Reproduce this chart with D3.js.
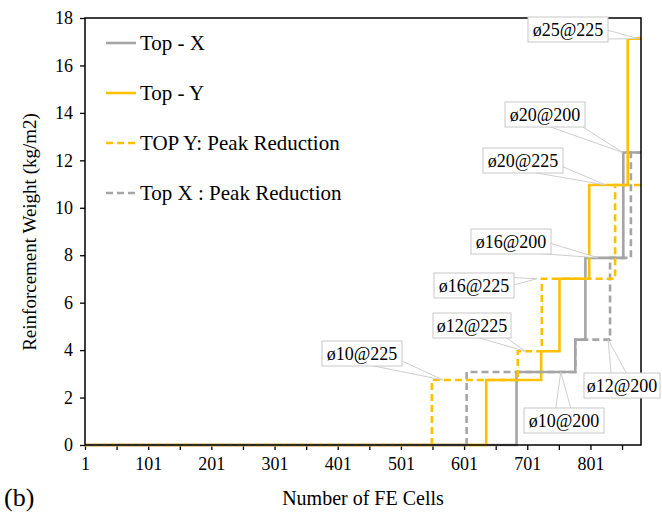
<!DOCTYPE html>
<html><head><meta charset="utf-8">
<script src="https://cdn.jsdelivr.net/npm/d3@7/dist/d3.min.js"></script>
<style>
html,body{margin:0;padding:0;background:#fff;}
svg{display:block;}
svg text{font-family:"Liberation Serif","Times New Roman",Times,"DejaVu Serif",serif !important;}
</style></head>
<body><svg id="chart" width="662" height="519"></svg>
<script>
// ---- data ----
const xDomain = [1, 881];
const xTickValues = [1,51,101,151,201,251,301,351,401,451,501,551,601,651,701,751,801,851];
const xTickLabels = ["1","101","201","301","401","501","601","701","801"];
const yTickValues = [0,2,4,6,8,10,12,14,16,18];

const seriesNames = ["Top - X", "Top - Y", "TOP Y: Peak Reduction", "Top X : Peak Reduction"];
const topXStart = [1, 684, 777, 793, 853];
const topXValue = [0, 3.08, 4.44, 7.89, 12.33];
const topYStart = [1, 636, 723, 752, 799, 860];
const topYValue = [0, 2.74, 3.95, 7.01, 10.96, 17.13];
const topYPeakStart = [1, 550, 686, 724, 840];
const topYPeakValue = [0, 2.74, 3.95, 7.01, 10.96];
const topXPeakStart = [1, 605, 777, 832, 865];
const topXPeakValue = [0, 3.08, 4.44, 7.89, 12.33];

const labelTexts = ["ø25@225","ø20@200","ø20@225","ø16@200","ø16@225","ø12@225","ø10@225","ø10@200","ø12@200"];
const labelCells = [877, 852, 825, 813, 716, 698, 568, 754, 829];
const labelValues = [17.13, 12.33, 10.96, 7.89, 7.01, 3.95, 2.74, 3.08, 4.44];

// ---- layout ----
const svg = d3.select("#chart");
const L = 85, R = 641, T = 18, B = 445;
const x = d3.scaleLinear().domain(xDomain).range([L, R]);
const y = d3.scaleLinear().domain([0, 18]).range([B, T]);
const GRAY = "#a5a5a5", ORANGE = "#ffc000";
const FONT = 18;
const FAM = "'Liberation Serif','Times New Roman',Times,'DejaVu Serif',serif";

// label box positions (pixels): left, top, width
const labelBoxes = [[528,17,80],[505,102,80],[483,148,80],[471,229,80],[434,273,80],[433,313,78],[322,341,80],[524,408,80],[584,373,76]];

// ---- axes ----
const gx = svg.append("g").attr("transform", `translate(0,${B})`)
  .call(d3.axisBottom(x).tickValues(xTickValues).tickSize(5).tickFormat(d => xTickLabels.includes(String(d)) ? String(d) : ""));
gx.attr("font-family", FAM);
gx.select(".domain").remove();
gx.selectAll(".tick line").attr("stroke", "#000").attr("stroke-width", 1.3);
gx.selectAll(".tick text").attr("font-size", FONT).attr("fill", "#000").attr("dy", "0.95em");

const gy = svg.append("g").attr("transform", `translate(${L},0)`)
  .call(d3.axisLeft(y).tickValues(yTickValues).tickSize(5).tickPadding(7));
gy.attr("font-family", FAM);
gy.select(".domain").remove();
gy.selectAll(".tick line").attr("stroke", "#000").attr("stroke-width", 1.3);
gy.selectAll(".tick text").attr("font-size", FONT).attr("fill", "#000");

// ---- series ----
function steps(starts, values) {
  const pts = starts.map((s, i) => [s, values[i]]);
  pts.push([xDomain[1], values[values.length - 1]]);
  return pts;
}
const line = d3.line().x(d => x(d[0])).y(d => y(d[1])).curve(d3.curveStepAfter);
const series = [
  {starts: topXStart, values: topXValue, color: GRAY, dash: null},
  {starts: topYStart, values: topYValue, color: ORANGE, dash: null},
  {starts: topXPeakStart, values: topXPeakValue, color: GRAY, dash: "7,4", baseDash: null},
  {starts: topYPeakStart, values: topYPeakValue, color: ORANGE, dash: "7,4", baseDash: "3,6"}
];
series.forEach(s => {
  const pts = steps(s.starts, s.values);
  if (s.dash) {
    // the long flat zero run looks different from the dashed steps in the source chart
    const base = [[s.starts[0], s.values[0]], [s.starts[1], s.values[0]]];
    svg.append("path").attr("d", line(base)).attr("fill", "none")
      .attr("stroke", s.color).attr("stroke-width", 2.6)
      .attr("stroke-dasharray", s.baseDash);
    const rest = [[s.starts[1], s.values[0]], ...pts.slice(1)];
    svg.append("path").attr("d", line(rest)).attr("fill", "none")
      .attr("stroke", s.color).attr("stroke-width", 2.6)
      .attr("stroke-dasharray", s.dash);
  } else {
    svg.append("path").attr("d", line(pts)).attr("fill", "none")
      .attr("stroke", s.color).attr("stroke-width", 2.6);
  }
});

// ---- plot border ----
svg.append("rect").attr("x", L).attr("y", T).attr("width", R - L).attr("height", B - T)
  .attr("fill", "none").attr("stroke", "#000").attr("stroke-width", 1.5);

// ---- callouts ----
labelTexts.forEach((t, i) => {
  const [bx, by, bw] = labelBoxes[i];
  const bh = 25;
  const cx = bx + bw / 2, cy = by + bh / 2;
  const ax = x(labelCells[i]), ay = y(labelValues[i]);
  const dx = ax - cx, dy = ay - cy, len = Math.hypot(dx, dy);
  const px = -dy / len * 10, py = dx / len * 10;
  svg.append("path")
    .attr("d", `M${cx + px},${cy + py}L${ax},${ay}L${cx - px},${cy - py}Z`)
    .attr("fill", "#fff").attr("stroke", "#c8c8c8").attr("stroke-width", 0.9);
  svg.append("rect").attr("x", bx).attr("y", by).attr("width", bw).attr("height", bh)
    .attr("fill", "#fff").attr("stroke", "#c8c8c8").attr("stroke-width", 1);
  svg.append("text").attr("x", cx).attr("y", cy).attr("dy", "0.35em")
    .attr("font-family", FAM).attr("text-anchor", "middle").attr("font-size", FONT).text(t);
});

// ---- legend ----
const legendItems = [
  {name: seriesNames[0], color: GRAY, dash: null},
  {name: seriesNames[1], color: ORANGE, dash: null},
  {name: seriesNames[2], color: ORANGE, dash: "7,4"},
  {name: seriesNames[3], color: GRAY, dash: "7,4"}
];
const lg = svg.append("g");
legendItems.forEach((d, i) => {
  const ly = 43 + i * 50;
  lg.append("line").attr("x1", 106).attr("x2", 136).attr("y1", ly).attr("y2", ly)
    .attr("stroke", d.color).attr("stroke-width", 2.6).attr("stroke-dasharray", d.dash);
  lg.append("text").attr("x", 140).attr("y", ly).attr("dy", "0.35em")
    .attr("font-family", FAM).attr("font-size", 21).text(d.name);
});

// ---- titles ----
svg.append("text").attr("transform", `translate(36,232) rotate(-90)`)
  .attr("font-family", FAM).attr("text-anchor", "middle").attr("font-size", 19).text("Reinforcement Weight (kg/m2)");
svg.append("text").attr("x", 363).attr("y", 505).attr("text-anchor", "middle")
  .attr("font-family", FAM).attr("font-size", 20).text("Number of FE Cells");
svg.append("text").attr("x", 4).attr("y", 506).attr("font-family", FAM).attr("font-size", 26).text("(b)");
</script>
</body></html>
